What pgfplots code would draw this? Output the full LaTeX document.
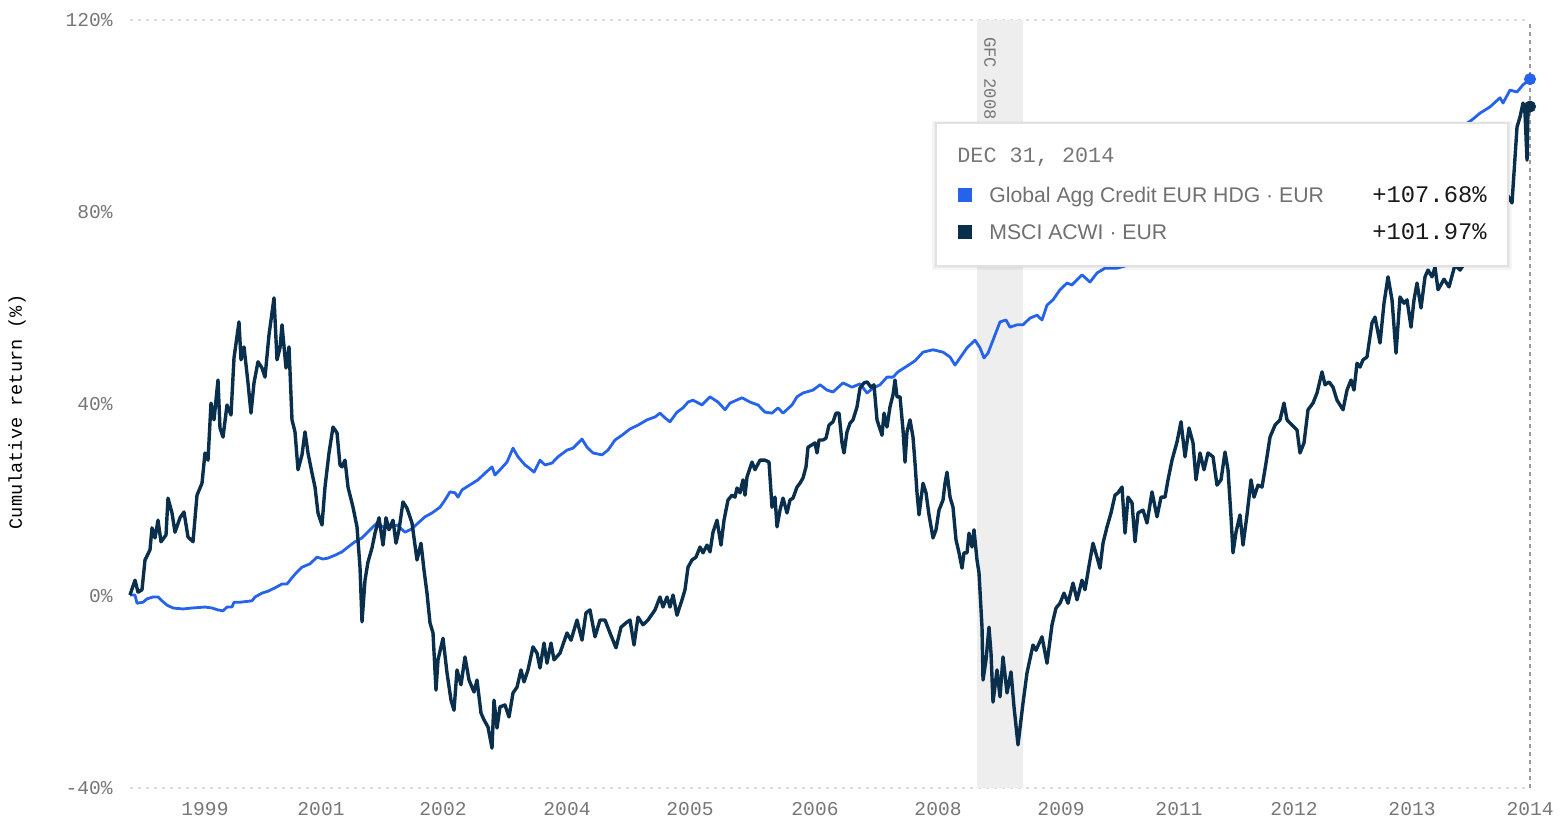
\documentclass[border=0pt]{standalone}
\usepackage{fontspec}
\setmainfont{Liberation Sans}
\newfontfamily\mono{Liberation Mono}
\usepackage{pgfplots}
\pgfplotsset{compat=1.18}
\definecolor{cblue}{HTML}{2563EB}
\definecolor{cnavy}{HTML}{0A2F4D}
\definecolor{tickgray}{HTML}{777777}
\definecolor{gridgray}{HTML}{DDDDDD}
\definecolor{gfc}{HTML}{EEEEEE}
\definecolor{cursor}{HTML}{999999}
\definecolor{legendgray}{HTML}{707070}
\definecolor{boxline}{HTML}{E2E2E2}

\pgfplotstableread{
x y
130 0.2
135 0.2
137 -1.5
143 -1.3
147 -0.6
153 -0.2
158 -0.2
162 -1.0
167 -1.9
173 -2.5
183 -2.7
192 -2.5
205 -2.3
212 -2.5
218 -2.9
223 -3.1
227 -2.3
232 -2.3
234 -1.3
240 -1.3
252 -1.0
255 -0.2
262 0.6
268 1.0
275 1.7
282 2.5
287 2.5
292 3.8
297 5.0
302 6.0
310 6.7
317 8.1
323 7.7
328 7.9
335 8.5
342 9.2
348 10.2
355 11.3
362 12.1
370 13.8
377 15.2
383 14.4
392 14.4
397 14.8
405 13.3
412 14.0
418 15.2
425 16.5
432 17.3
440 18.5
445 20.0
450 21.7
455 21.5
458 20.6
462 22.1
468 22.9
478 24.2
485 25.6
492 26.9
495 25.2
500 26.3
507 27.9
513 30.8
518 29.0
525 27.3
529 26.7
534 25.8
540 28.3
545 27.3
552 27.7
558 29.0
567 30.4
573 30.8
582 32.7
587 31.0
593 29.8
602 29.4
608 30.4
615 32.5
622 33.5
630 34.8
638 35.6
647 36.7
655 37.3
660 38.1
665 37.1
670 36.3
677 38.3
683 39.2
688 40.4
693 40.8
702 39.8
710 41.5
718 40.4
725 38.8
730 40.2
742 41.3
750 40.4
758 39.8
765 38.3
772 38.1
778 39.2
783 38.1
792 39.8
797 41.5
803 42.3
813 42.9
820 44.0
827 42.9
833 42.5
843 44.4
852 43.5
860 44.2
867 42.3
873 43.3
880 44.0
887 45.6
893 45.6
898 46.7
907 47.9
915 49.0
923 50.8
933 51.3
943 50.8
950 49.8
955 48.1
960 49.6
967 51.7
975 53.3
980 51.7
984 49.6
988 50.6
993 53.3
1000 57.1
1006 57.5
1010 56.0
1017 56.5
1023 56.5
1030 57.9
1037 58.5
1042 57.5
1047 60.6
1053 61.7
1060 63.8
1067 65.2
1072 64.8
1082 66.9
1090 65.4
1097 67.3
1105 68.3
1117 68.3
1140 69.6
1165 71.0
1190 72.1
1215 74.2
1240 75.8
1265 77.9
1290 80.4
1315 82.5
1340 84.6
1365 87.7
1390 89.8
1415 92.9
1440 95.4
1460 97.5
1472 99.2
1480 100.6
1490 101.9
1500 103.8
1503 102.7
1510 105.4
1517 105.0
1523 106.5
1530 107.68
}\credit

\pgfplotstableread{
x y
130 0.2
135 3.3
138 0.8
142 1.3
145 7.5
150 9.6
152 14.2
155 12.1
158 15.8
161 11.3
166 12.7
168 20.4
172 17.3
175 13.3
180 16.3
184 17.5
188 12.3
193 11.3
197 21.0
202 23.5
205 29.8
208 28.3
211 40.2
214 36.7
218 45.0
220 35.0
223 33.1
227 39.8
231 37.7
234 49.6
239 57.1
241 49.2
244 51.9
248 44.4
251 38.1
254 44.4
258 48.8
262 47.5
265 45.6
269 54.4
272 59.0
274 62.1
277 49.2
280 51.7
282 56.5
286 47.5
289 51.9
292 36.7
295 34.2
298 26.3
302 29.4
305 34.2
308 29.8
312 25.6
315 22.7
318 17.3
322 14.8
325 22.7
329 29.8
333 35.2
337 34.0
340 27.3
342 26.9
345 28.3
348 22.7
353 18.5
357 14.4
360 6.0
362 -5.4
365 3.3
368 7.1
372 10.0
375 13.1
379 16.3
383 10.6
386 16.3
389 13.8
393 15.8
396 11.0
399 13.8
403 19.6
407 18.3
412 15.2
417 7.5
421 11.0
424 5.4
427 0.6
430 -5.6
433 -7.7
436 -19.6
438 -13.3
443 -8.8
447 -16.0
451 -21.7
454 -23.8
457 -15.4
461 -18.5
465 -12.7
469 -17.5
474 -20.0
477 -17.5
481 -24.4
484 -25.8
488 -27.3
492 -31.7
494 -21.7
497 -27.5
500 -23.1
505 -22.7
509 -25.2
513 -20.2
517 -19.0
521 -15.4
524 -17.9
528 -15.4
533 -10.6
537 -11.9
540 -15.0
544 -9.8
547 -14.0
551 -9.8
554 -13.3
560 -11.9
567 -7.7
571 -9.2
577 -5.0
582 -9.2
586 -3.5
590 -2.9
595 -8.5
600 -5.0
605 -5.0
610 -7.7
616 -10.8
621 -6.5
626 -5.6
630 -5.0
634 -10.2
638 -4.4
643 -6.0
648 -5.0
655 -2.9
660 -0.2
663 -2.3
667 -0.2
670 -2.3
673 0.2
677 -4.0
682 -0.8
685 1.3
688 6.0
692 7.5
696 8.1
700 10.2
703 9.0
707 10.6
710 9.2
713 13.3
717 15.8
721 10.6
724 15.8
728 20.0
732 21.0
735 20.6
737 22.5
740 21.5
743 24.2
745 21.0
747 24.8
752 27.9
755 26.3
760 28.3
765 28.3
769 27.9
772 18.5
775 20.6
777 14.4
780 17.9
783 20.4
787 17.3
790 20.0
793 20.4
797 22.7
800 23.5
803 24.6
806 26.9
808 31.0
812 31.5
815 31.9
817 29.8
819 32.5
823 32.5
826 32.9
829 35.6
833 36.3
836 38.1
839 38.1
842 31.9
844 29.8
847 34.2
850 36.0
853 36.7
857 39.4
860 43.3
864 44.4
867 44.6
871 43.5
874 44.0
877 36.7
882 33.5
884 38.1
887 35.2
890 39.4
893 41.9
895 45.0
897 41.5
900 41.5
903 34.6
905 27.9
907 34.2
910 36.7
913 33.1
915 27.7
917 21.5
919 16.9
923 23.5
926 21.5
929 16.9
933 12.1
936 13.8
939 17.9
943 20.0
945 23.5
947 25.8
950 20.6
953 18.5
956 11.7
959 9.0
962 5.8
964 9.0
967 9.0
969 13.1
972 10.2
974 13.8
977 7.5
979 4.8
982 -6.5
983 -17.5
986 -13.3
989 -6.5
991 -11.9
993 -22.1
997 -15.4
1000 -21.0
1003 -12.7
1007 -20.2
1011 -15.8
1014 -23.1
1018 -31.0
1023 -22.3
1027 -16.0
1033 -10.2
1036 -11.3
1042 -8.5
1047 -14.0
1052 -6.0
1056 -2.5
1060 -1.5
1064 0.6
1068 -1.5
1073 2.7
1077 -0.8
1082 3.3
1085 1.3
1090 7.5
1093 11.0
1097 8.1
1100 5.8
1103 11.0
1107 14.4
1111 17.3
1115 21.0
1118 21.5
1122 22.7
1125 13.1
1128 20.6
1132 19.4
1135 11.3
1138 17.3
1143 17.9
1147 15.2
1152 21.7
1157 16.5
1161 20.6
1165 20.6
1168 24.2
1172 28.3
1177 32.1
1181 36.3
1185 29.0
1189 35.0
1193 31.9
1196 24.2
1200 29.8
1204 26.3
1208 29.8
1213 29.0
1217 23.1
1221 24.2
1225 30.0
1228 26.3
1231 16.5
1233 9.0
1236 13.3
1240 16.9
1243 10.6
1247 16.9
1251 24.2
1254 20.6
1258 23.1
1262 22.7
1266 27.7
1270 33.1
1275 35.6
1280 36.7
1284 40.2
1287 36.7
1292 35.6
1297 34.6
1300 29.8
1304 31.9
1308 38.8
1313 40.2
1317 42.3
1322 46.7
1325 44.0
1329 44.6
1333 43.5
1337 40.8
1343 38.8
1347 42.9
1351 45.0
1354 42.9
1357 48.5
1360 47.7
1363 49.2
1367 49.8
1372 56.9
1375 58.1
1380 52.7
1384 61.0
1388 66.5
1392 61.7
1396 50.6
1400 62.3
1404 61.0
1407 61.7
1411 56.0
1414 61.7
1417 65.2
1421 60.0
1425 66.5
1428 67.9
1432 66.5
1435 68.5
1438 63.8
1444 66.0
1449 64.4
1455 69.0
1460 67.9
1470 71.0
1480 74.2
1490 76.3
1500 79.4
1506 84.0
1512 81.9
1517 97.7
1520 99.8
1523 102.7
1525 100.6
1527 90.8
1528 101.9
1530 101.97
}\msci

\begin{document}
\begin{tikzpicture}[x=1pt,y=1pt]
\path[use as bounding box] (0,0) rectangle (781,416);
\begin{axis}[
  at={(65pt,22pt)}, anchor=south west,
  scale only axis, width=700pt, height=384pt,
  xmin=130, xmax=1530, ymin=-40, ymax=120,
  axis line style={draw=none},
  major tick length=0pt,
  xtick={205,321,443,567,690,815,938,1061,1179,1294,1412,1530},
  xticklabels={1999,2001,2002,2004,2005,2006,2008,2009,2011,2012,2013,2014},
  ytick={-40,0,40,80,120},
  yticklabels={-40\%,0\%,40\%,80\%,120\%},
  extra y ticks={-40,120},
  extra y tick labels={},
  extra y tick style={grid=major, major tick length=0pt},
  grid style={gridgray, line width=0.6pt, dash pattern=on 1.5pt off 2.5pt},
  xticklabel style={font=\mono\fontsize{9.8}{11}\selectfont, text=tickgray, anchor=north, inner sep=0pt, yshift=-7pt},
  yticklabel style={font=\mono\fontsize{9.8}{11}\selectfont, text=tickgray, anchor=east, inner sep=0pt, xshift=-8.5pt},
  ylabel={Cumulative return (\%)},
  every axis y label/.style={at={(axis description cs:0,0.4896)}, xshift=-56.5pt, rotate=90, anchor=center, font=\mono\fontsize{9.3}{11}\selectfont, text=black},
  clip=false,
]
\addplot[draw=none, fill=gfc, forget plot] coordinates {(977,-40) (977,120) (1023,120) (1023,-40)} -- cycle;
\node[rotate=-90, anchor=west, inner sep=0pt, font=\mono\fontsize{8.6}{10}\selectfont, text=tickgray] at (axis cs:990,116.5) {GFC 2008};
\addplot[color=cursor, line width=0.6pt, dash pattern=on 2pt off 2pt, forget plot] coordinates {(1530,-40) (1530,120)};
\addplot[color=cblue, line width=1.4pt, line join=round] table[x=x,y=y] {\credit};
\addplot[color=cnavy, line width=1.7pt, line join=round] table[x=x,y=y] {\msci};
\addplot[only marks, mark=*, mark size=2.8pt, color=cblue] coordinates {(1530,107.68)};
\addplot[only marks, mark=*, mark size=2.8pt, color=cnavy] coordinates {(1530,101.97)};
\end{axis}
% tooltip
\fill[black, opacity=0.04] (466,281) rectangle (756,355.5);
\fill[black, opacity=0.04] (467,282) rectangle (755,355);
\draw[fill=white, draw=boxline, line width=0.6pt] (468,283) rectangle (754,354.5);
\node[anchor=base west, inner sep=0pt, font=\mono\fontsize{10.9}{12}\selectfont, text=tickgray] at (478.5,334.9) {DEC 31, 2014};
\fill[cblue] (479,315) rectangle (486,322);
\node[anchor=base west, inner sep=0pt, font=\fontsize{10.6}{12}\selectfont, text=legendgray] at (494.5,314.7) {Global Agg Credit EUR HDG · EUR};
\node[anchor=base east, inner sep=0pt, font=\mono\fontsize{11.9}{13}\selectfont, text=black!90] at (743.5,314.6) {+107.68\%};
\fill[cnavy] (479,296.5) rectangle (486,303.5);
\node[anchor=base west, inner sep=0pt, font=\fontsize{10.6}{12}\selectfont, text=legendgray] at (494.5,296.2) {MSCI ACWI · EUR};
\node[anchor=base east, inner sep=0pt, font=\mono\fontsize{11.9}{13}\selectfont, text=black!90] at (743.5,296.1) {+101.97\%};
\end{tikzpicture}
\end{document}
